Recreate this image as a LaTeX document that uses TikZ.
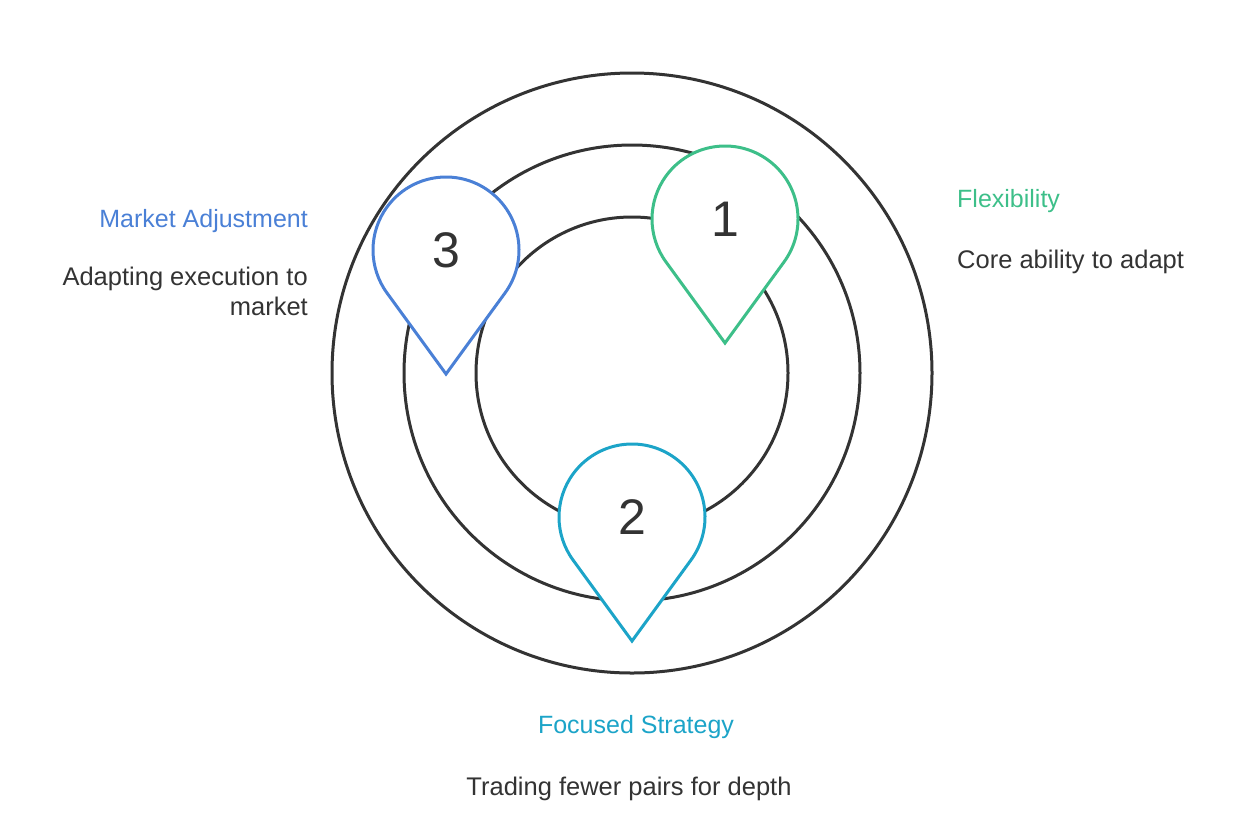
\documentclass[tikz,border=0pt]{standalone}
\usepackage{fontspec}
\setmainfont{Liberation Sans}
\usetikzlibrary{calc}
\definecolor{ringc}{HTML}{333333}
\definecolor{greenc}{HTML}{3DBF89}
\definecolor{bluec}{HTML}{4A80D6}
\definecolor{cyanc}{HTML}{1CA4C8}
\definecolor{txtc}{HTML}{333333}
\tikzset{
  ring/.style={draw=ringc, line width=3pt},
  pin/.style={fill=white, line width=3pt, line join=miter},
  numtxt/.style={text=txtc, font=\fontsize{50}{50}\selectfont, inner sep=0pt},
  ttl/.style={font=\fontsize{25}{30}\selectfont, inner sep=0pt},
  body/.style={text=txtc, font=\fontsize{25.5}{30}\selectfont, inner sep=0pt}
}
\newcommand{\pinshape}[3]{%
  % #1 center coordinate name, #2 colour, #3 tip coordinate name
  \draw[pin, draw=#2] (#3) -- ($(#1)+(-36.1:73pt)$)
    arc[start angle=-36.1, end angle=216.1, radius=73pt] -- cycle;
}
\begin{document}
\begin{tikzpicture}[x=1pt,y=1pt]
\useasboundingbox (0,0) rectangle (1258,-820);
\coordinate (O) at (632,-373);
\node[ring, circle, minimum size=600pt, inner sep=0pt] (outer) at (O) {};
\node[ring, circle, minimum size=456pt, inner sep=0pt] (middle) at (O) {};
\node[ring, circle, minimum size=312pt, inner sep=0pt] (inner) at (O) {};

\coordinate (c1) at (725,-219);
\coordinate (t1) at (725,-343);
\coordinate (c2) at (632,-517);
\coordinate (t2) at (632,-641);
\coordinate (c3) at (446,-250);
\coordinate (t3) at (446,-374);

\pinshape{c1}{greenc}{t1}
\pinshape{c2}{cyanc}{t2}
\pinshape{c3}{bluec}{t3}

\node[numtxt] (n1) at (c1) {1};
\node[numtxt] (n2) at (c2) {2};
\node[numtxt] (n3) at (c3) {3};

\node[ttl, text=greenc, anchor=base west] (flex) at (957,-207) {Flexibility};
\node[body, anchor=base west] (flexd) at (957,-268) {Core ability to adapt};

\node[ttl, text=bluec, anchor=base east] (mkt) at (308,-227) {Market Adjustment};
\node[body, anchor=base east] (mktd1) at (308,-285) {Adapting execution to};
\node[body, anchor=base east] (mktd2) at (308,-315) {market};

\node[ttl, text=cyanc, anchor=base] (foc) at (636,-733) {Focused Strategy};
\node[body, anchor=base] (focd) at (629,-795) {Trading fewer pairs for depth};
\end{tikzpicture}
\end{document}
